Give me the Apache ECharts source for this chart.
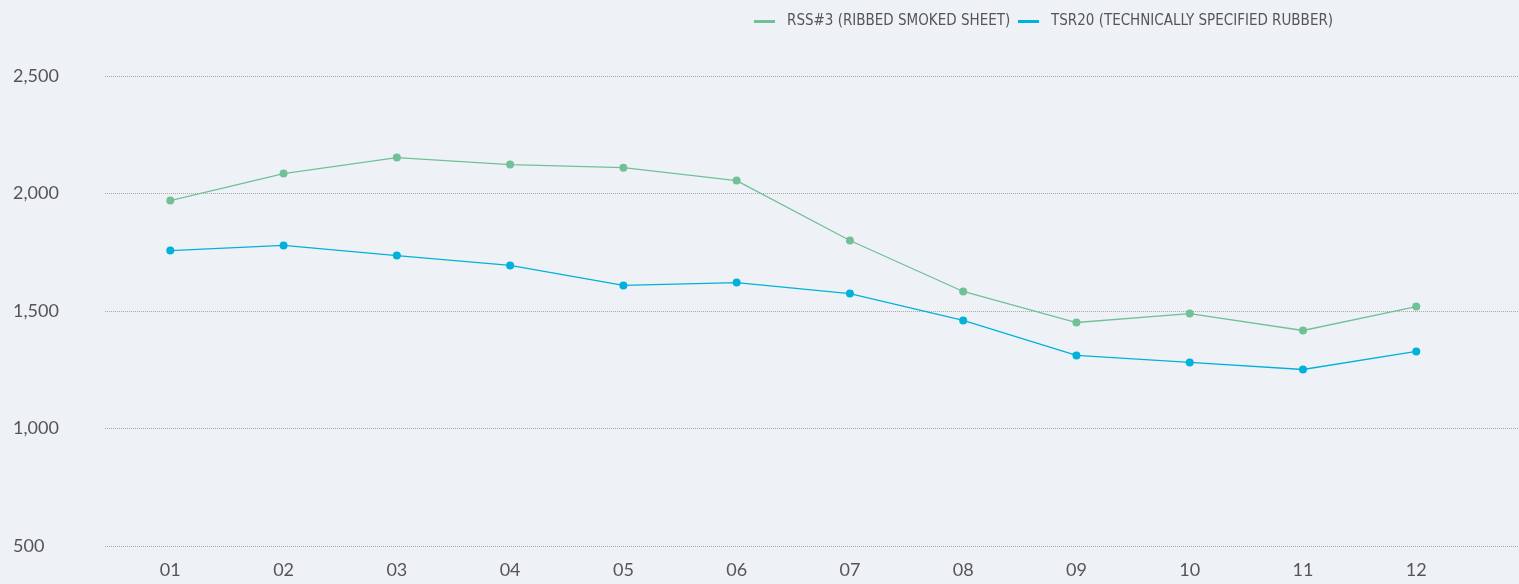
<!DOCTYPE html>
<html>
<head>
<meta charset="utf-8">
<script src="https://cdn.jsdelivr.net/npm/echarts@6/dist/echarts.min.js"></script>
<style>
html,body{margin:0;padding:0;background:#eef2f7;}
#c{width:1519px;height:584px;}
</style>
</head>
<body>
<div id="c"></div>
<script>
const months = ['01','02','03','04','05','06','07','08','09','10','11','12'];
const rss3 = [1970, 2085, 2153, 2123, 2110, 2055, 1800, 1583, 1451, 1489, 1417, 1519];
const tsr20 = [1757, 1779, 1736, 1694, 1609, 1621, 1574, 1460, 1311, 1281, 1251, 1328];
const seriesNames = ['RSS#3 (RIBBED SMOKED SHEET)', 'TSR20 (TECHNICALLY SPECIFIED RUBBER)'];
const yTicks = [500, 1000, 1500, 2000, 2500];

const pos = months.map((m, i) => i + 1);
const font = 'Lato, "Open Sans", sans-serif';
const legendText = {
  fontFamily: '"DejaVu Sans Condensed", "DejaVu Sans", sans-serif',
  fontWeight: 'normal', fontSize: 15, color: '#555', padding: [0, 0, 0, 7]
};
const legendBase = {
  top: 14, padding: 0, itemWidth: 21, itemHeight: 3, icon: 'rect',
  width: 900, textStyle: legendText
};

const chart = echarts.init(document.getElementById('c'), null, {renderer: 'canvas'});
chart.setOption({
  backgroundColor: '#eef2f7',
  animation: false,
  legend: [
    Object.assign({}, legendBase, {left: 754, data: [seriesNames[0]]}),
    Object.assign({}, legendBase, {left: 1018, data: [seriesNames[1]]})
  ],
  grid: {left: 105, right: 0, top: 76, bottom: 38, containLabel: false},
  xAxis: {
    type: 'value',
    min: 0.4235,
    max: 12.907,
    splitLine: {show: false},
    axisLine: {show: false},
    axisTick: {show: false},
    axisLabel: {
      customValues: pos,
      formatter: v => months[Math.round(v) - 1] || '',
      fontFamily: font, fontSize: 18, color: '#555', margin: 15
    }
  },
  yAxis: {
    type: 'value',
    min: yTicks[0],
    max: yTicks[yTicks.length - 1],
    interval: 500,
    axisLine: {show: false},
    axisTick: {show: false},
    splitLine: {lineStyle: {type: 'dotted', color: '#a8a8a8', width: 1}},
    axisLabel: {
      formatter: v => v.toLocaleString('en-US'),
      fontFamily: font, fontSize: 18, color: '#555',
      align: 'left', margin: 92
    }
  },
  series: [
    {
      name: seriesNames[0], type: 'line', symbol: 'circle', symbolSize: 8,
      data: rss3.map((v, i) => [pos[i], v]),
      itemStyle: {color: '#72c095'},
      lineStyle: {color: '#72c095', width: 1.3}
    },
    {
      name: seriesNames[1], type: 'line', symbol: 'circle', symbolSize: 8,
      data: tsr20.map((v, i) => [pos[i], v]),
      itemStyle: {color: '#00b1d9'},
      lineStyle: {color: '#00b1d9', width: 1.3}
    }
  ]
});
</script>
</body>
</html>
